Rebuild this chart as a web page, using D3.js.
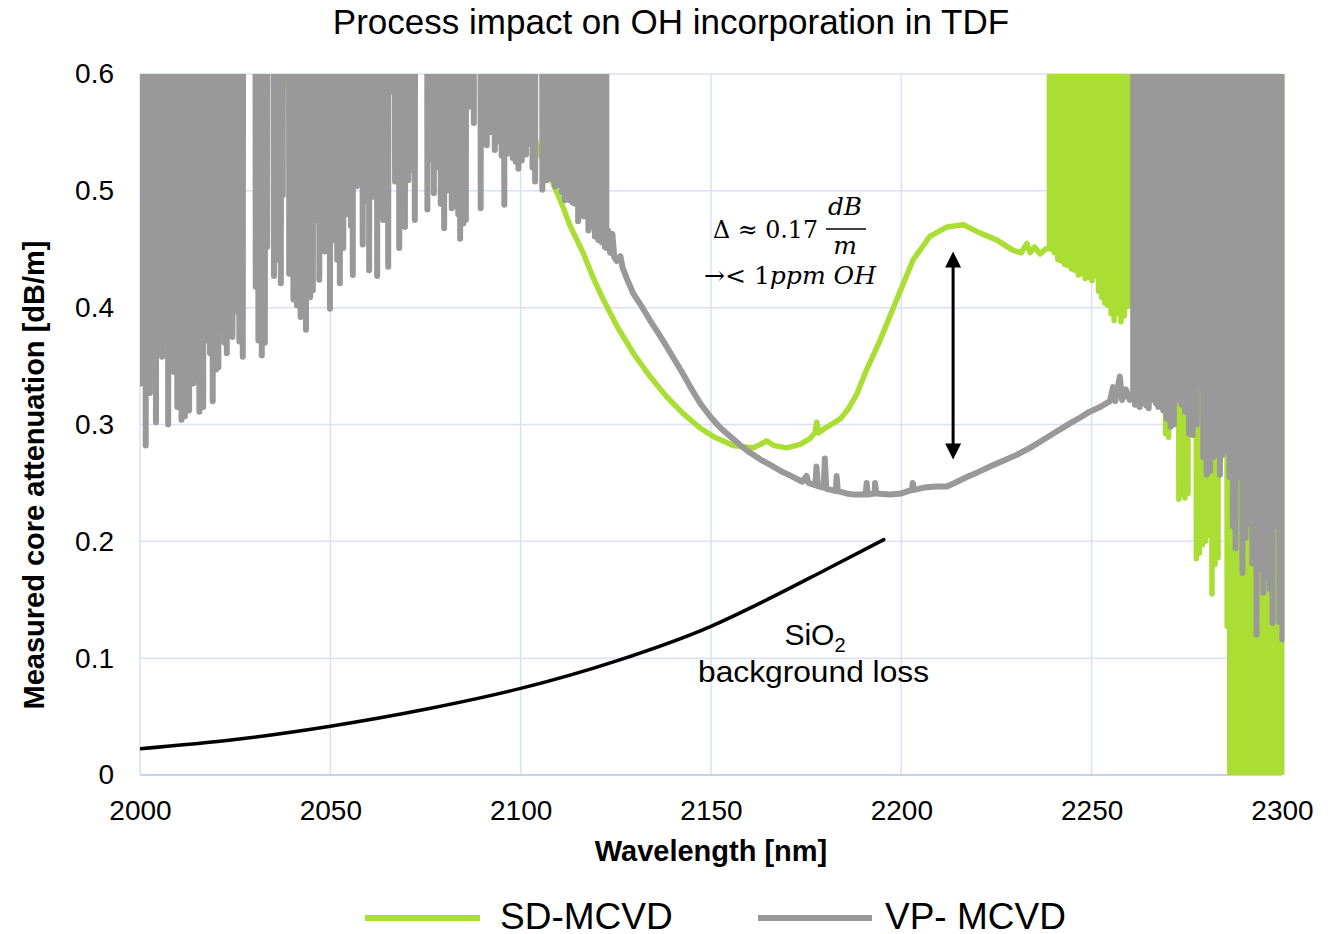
<!DOCTYPE html>
<html>
<head>
<meta charset="utf-8">
<script src="https://cdn.jsdelivr.net/npm/d3@7"></script>
<style>
  body { margin: 0; background: #fff; }
  svg { display: block; font-family: "Liberation Sans", Arial, sans-serif; }
  .math { font-family: "DejaVu Serif", "Liberation Serif", serif; }
</style>
</head>
<body>
<svg id="chart" width="1337" height="934"></svg>
<script>
// ---------- axis ticks ----------
const xTicks = [2000, 2050, 2100, 2150, 2200, 2250, 2300];
const yTicks = [0, 0.1, 0.2, 0.3, 0.4, 0.5, 0.6];
const yTickLabels = ["0", "0.1", "0.2", "0.3", "0.4", "0.5", "0.6"];
const seriesNames = ["SD-MCVD", "VP- MCVD"];

// Readings above the axis range (detector saturated) are stored as this value
const OFF_SCALE = 1.5;

// ---------- VP-MCVD ----------
// short-wavelength saturated region: [wavelength nm, floor of each noise spike dB/m]
const vpShortBand = [
  [2000.3,0.335],[2001.5,0.282],[2002.6,0.327],[2003.5,0.389],[2004.2,0.302],[2005.1,0.375],[2005.8,0.358],[2006.6,0.383],
  [2007.4,0.300],[2008.3,0.355],[2008.9,0.345],[2009.8,0.315],[2010.9,0.304],[2011.8,0.307],[2012.9,0.312],[2014.0,0.335],
  [2014.9,0.340],[2015.6,0.311],[2016.6,0.315],[2017.7,0.372],[2018.4,0.361],[2019.1,0.320],[2020.0,0.347],[2020.6,0.349],
  [2021.5,0.381],[2022.2,0.370],[2022.8,0.361],[2023.6,0.398],[2024.3,0.375],[2025.2,0.397],[2026.1,0.371],[2027.0,0.358],
  [2030.4,0.418],[2031.1,0.372],[2032.0,0.359],[2032.8,0.370],[2033.4,0.452],
  [2035.2,0.427],[2035.9,0.441],[2036.5,0.470],[2037.0,0.421],[2037.5,0.496],
  [2039.2,0.429],[2040.3,0.407],[2041.2,0.402],[2042.2,0.392],[2042.9,0.402],[2043.6,0.381],[2044.7,0.409],[2045.4,0.415],
  [2046.2,0.475],[2047.1,0.424],[2047.9,0.470],[2048.6,0.448],[2049.2,0.458],[2049.9,0.399],[2050.5,0.470],[2051.0,0.458],
  [2051.8,0.441],[2052.5,0.421],[2053.4,0.451],[2054.1,0.480],[2054.7,0.502],[2055.4,0.470],[2055.9,0.428],[2056.9,0.504],
  [2057.8,0.527],[2058.5,0.454],[2059.5,0.491],[2060.2,0.432],[2061.3,0.495],[2062.3,0.427],[2063.0,0.555],[2063.9,0.475],
  [2064.6,0.500],[2065.2,0.435],[2066.1,0.585],[2067.0,0.508],[2068.1,0.451],[2069.0,0.491],[2069.6,0.469],[2070.5,0.509],
  [2071.6,0.518],[2072.2,0.475],
  [2075.5,0.484],[2076.6,0.527],[2077.2,0.498],[2077.8,0.520],[2078.4,0.575],[2079.0,0.489],[2079.9,0.468],[2080.5,0.500],
  [2081.0,0.547],[2081.9,0.485],[2082.5,0.500],[2083.0,0.487],[2083.6,0.480],[2084.1,0.459],[2084.9,0.472],[2085.6,0.475],
  [2086.9,0.572],[2087.7,0.558],
  [2089.5,0.485],
  [2091.1,0.539],[2091.6,0.550],[2092.1,0.553],[2092.7,0.550],[2093.2,0.535],[2093.8,0.550],[2094.4,0.542],[2095.0,0.530],
  [2095.7,0.488],[2096.5,0.532],[2097.9,0.528],[2098.7,0.525],[2099.4,0.519],[2100.3,0.526],[2101.4,0.531],[2102.0,0.540],
  [2102.4,0.547],[2103.1,0.520],[2103.8,0.508],
  [2105.7,0.501],[2106.8,0.509],[2107.7,0.515],[2108.3,0.510],[2109.0,0.504],[2109.9,0.505],[2110.8,0.499],[2111.6,0.492],
  [2112.3,0.495],[2112.9,0.492],[2113.6,0.490],[2114.3,0.489],[2115.1,0.474],[2116.0,0.480],[2116.6,0.478],[2117.2,0.481],
  [2117.8,0.466],[2118.7,0.469],[2119.5,0.461],[2120.4,0.458],[2121.3,0.456],[2122.1,0.452]
];
// resolved attenuation trace
const vpTrace = [
  [2122.5,0.451],[2123.0,0.466],[2123.5,0.447],[2124.1,0.463],[2124.6,0.443],[2125.2,0.440],[2126.2,0.444],[2126.8,0.434],
  [2128.0,0.424],[2129.6,0.412],[2132.0,0.400],[2134.0,0.389],[2136.2,0.378],[2138.3,0.367],[2140.5,0.355],[2142.7,0.343],
  [2144.6,0.332],[2147.2,0.318],[2150.0,0.306],[2152.5,0.297],[2155.3,0.289],[2157.8,0.282],[2160.2,0.276],[2163.0,0.270],
  [2165.8,0.265],[2168.4,0.260],[2171.0,0.256],[2174.0,0.251],[2175.1,0.256],[2175.6,0.250],[2177.4,0.248],[2177.7,0.264],
  [2178.1,0.247],[2179.6,0.246],[2179.9,0.271],[2180.3,0.245],[2181.5,0.244],[2182.8,0.243],[2183.0,0.256],[2183.3,0.243],
  [2185.6,0.241],[2187.6,0.240],[2190.6,0.240],[2190.9,0.250],[2191.2,0.240],[2193.0,0.241],[2193.1,0.250],[2193.4,0.241],
  [2197.0,0.240],[2200.0,0.241],[2202.8,0.244],[2203.0,0.250],[2203.3,0.244],[2206.0,0.246],[2209.0,0.247],[2212.0,0.247],
  [2214.0,0.250],[2217.2,0.255],[2220.0,0.259],[2223.3,0.264],[2226.8,0.269],[2230.3,0.274],[2233.8,0.280],[2237.3,0.287],
  [2240.8,0.294],[2244.3,0.301],[2247.0,0.306],[2249.5,0.311],[2252.2,0.315],[2254.8,0.320],[2255.6,0.332],[2256.2,0.320],
  [2257.4,0.341],[2258.0,0.321],[2259.0,0.330],[2260.0,0.321],[2260.9,0.322]
];
// long-wavelength saturated region
const vpLongBand = [
  [2261.4,0.317],[2262.0,0.320],[2262.6,0.315],[2263.2,0.322],[2263.8,0.318],[2264.4,0.316],[2265.0,0.314],[2265.6,0.322],
  [2266.2,0.321],[2266.9,0.318],[2267.5,0.315],[2268.2,0.316],[2268.8,0.312],[2269.7,0.305],[2270.7,0.298],[2271.6,0.300],
  [2272.5,0.321],[2273.6,0.317],[2274.5,0.311],[2275.6,0.292],[2276.5,0.291],[2277.6,0.300],[2278.4,0.332],[2279.3,0.272],
  [2280.2,0.257],[2281.1,0.260],[2281.9,0.272],[2282.8,0.274],[2283.7,0.257],[2284.4,0.274],[2285.7,0.277],[2286.2,0.255],
  [2287.1,0.213],[2287.8,0.194],[2288.6,0.255],[2289.6,0.173],[2290.4,0.203],[2291.3,0.215],[2292.2,0.181],[2293.3,0.120],
  [2294.2,0.176],[2295.1,0.156],[2296.0,0.170],[2296.8,0.159],[2297.5,0.130],[2298.4,0.213],[2299.3,0.131],[2300.1,0.116]
];

// ---------- SD-MCVD ----------
const sdShortSpikes = [[2038.0,0.590]];
const sdTrace = [
  [2104.2,0.540],[2105.5,0.528],[2107.7,0.512],[2110.3,0.493],[2113.0,0.470],[2116.4,0.447],[2119.0,0.426],[2121.7,0.407],
  [2125.5,0.383],[2129.6,0.361],[2134.0,0.341],[2138.3,0.324],[2142.5,0.310],[2147.1,0.297],[2151.0,0.289],[2155.8,0.282],
  [2161.1,0.280],[2163.0,0.283],[2164.6,0.286],[2166.5,0.282],[2169.9,0.280],[2173.4,0.283],[2176.0,0.288],[2177.3,0.293],
  [2177.8,0.302],[2178.3,0.293],[2180.0,0.297],[2182.1,0.301],[2184.0,0.305],[2186.0,0.313],[2188.3,0.326],[2190.9,0.347],
  [2194.4,0.372],[2198.8,0.407],[2203.1,0.441],[2207.5,0.461],[2211.9,0.469],[2216.3,0.471],[2220.6,0.464],[2225.0,0.458],
  [2229.4,0.449],[2231.5,0.447],[2233.0,0.455],[2233.8,0.447],[2235.0,0.452],[2236.5,0.446],[2237.8,0.450],[2238.9,0.451]
];
const sdMidBand = [
  [2239.4,0.450],[2240.2,0.447],[2241.1,0.441],[2242.0,0.440],[2242.9,0.437],[2243.8,0.436],[2244.7,0.433],
  [2245.6,0.432],[2246.5,0.428],[2247.4,0.429],[2248.3,0.425],[2249.2,0.426],[2250.1,0.423],[2251.0,0.427],[2251.8,0.414],
  [2252.6,0.409],[2253.4,0.404],[2254.2,0.402],[2255.1,0.395],[2255.9,0.389],[2256.8,0.395],[2257.7,0.388],[2258.6,0.393],
  [2259.5,0.401],[2260.3,0.407],[2261.0,0.410]
];
const sdLongSpikes = [
  [2269.4,0.292],[2270.2,0.289],[2272.9,0.236],[2273.7,0.240],[2274.5,0.237],[2275.3,0.241],[2277.5,0.185],[2278.3,0.190],
  [2279.1,0.197],[2279.9,0.200],[2280.7,0.205],[2281.6,0.155],[2282.4,0.180],[2283.2,0.186],[2285.6,0.127]
];
// beyond 2286 nm the signal swings through the whole range (floor below 0)
const sdTailBand = [
  [2286.3,-0.03],[2287.2,-0.03],[2288.1,-0.03],[2289.0,-0.03],[2289.9,-0.03],[2290.8,-0.03],[2291.7,-0.03],[2292.6,-0.03],
  [2293.5,-0.03],[2294.4,-0.03],[2295.3,-0.03],[2296.2,-0.03],[2297.1,-0.03],[2298.0,-0.03],[2298.9,-0.03],[2299.8,-0.03],
  [2300.6,-0.03]
];

// ---------- SiO2 background loss ----------
const sio2Loss = [
  [2000,0.0224],[2025,0.0303],[2050,0.0417],[2075,0.0562],[2100,0.0741],[2125,0.0975],
  [2150,0.1273],[2165,0.1505],[2180,0.1755],[2195.4,0.2015]
];

// ---------- annotation ----------
const deltaLabel = "0.17";
const deltaArrow = { wl: 2213.6, low: 0.270, high: 0.448 };

// ---------- layout ----------
const plot = { left: 140, right: 1282, top: 74, bottom: 775 };
const COLORS = { sd: "#AADE34", vp: "#999999", grid: "#D9E0F7", axis: "#C8D2F0" };

const svg = d3.select("#chart");
const x = d3.scaleLinear().domain([2000, 2300]).range([plot.left, plot.right]);
const y = d3.scaleLinear().domain([0, 0.6]).range([plot.bottom, plot.top]);

// gridlines
const grid = svg.append("g");
grid.selectAll("line.v").data(xTicks).join("line")
  .attr("x1", d => x(d)).attr("x2", d => x(d))
  .attr("y1", plot.top).attr("y2", plot.bottom)
  .attr("stroke", COLORS.grid).attr("stroke-width", 1.5);
grid.selectAll("line.h").data(yTicks.filter(d => d > 0)).join("line")
  .attr("x1", plot.left).attr("x2", x(2300))
  .attr("y1", d => y(d)).attr("y2", d => y(d))
  .attr("stroke", COLORS.grid).attr("stroke-width", 1.5);
grid.append("line")
  .attr("x1", plot.left).attr("x2", x(2300)).attr("y1", y(0)).attr("y2", y(0))
  .attr("stroke", COLORS.axis).attr("stroke-width", 2);

// clip region for the data
svg.append("clipPath").attr("id", "plotClip").append("rect")
  .attr("x", plot.left).attr("y", plot.top)
  .attr("width", x(2300) - plot.left + 2.5).attr("height", plot.bottom - plot.top);

const SPIKE_HALF = 0.3; // nm
const spikeRun = pairs => pairs.flatMap(([w, v]) => [[w - SPIKE_HALF, OFF_SCALE], [w, v], [w + SPIKE_HALF, OFF_SCALE]]);
const traceRun = (pairs, openStart) => openStart
  ? [...pairs, [pairs[pairs.length - 1][0], OFF_SCALE]]
  : [[pairs[0][0], OFF_SCALE], ...pairs, [pairs[pairs.length - 1][0], OFF_SCALE]];

const sdPoints = [...spikeRun(sdShortSpikes), ...traceRun(sdTrace, true), ...spikeRun(sdMidBand),
                  ...spikeRun(sdLongSpikes), ...spikeRun(sdTailBand)];
const vpPoints = [...spikeRun(vpShortBand), ...traceRun(vpTrace, false), ...spikeRun(vpLongBand)];

const line = d3.line().x(d => x(d[0])).y(d => y(d[1]));
const data = svg.append("g").attr("clip-path", "url(#plotClip)");

data.append("path").attr("d", line(sdPoints))
  .attr("fill", "none").attr("stroke", COLORS.sd).attr("stroke-width", 5.5)
  .attr("stroke-linejoin", "round").attr("stroke-linecap", "round");
data.append("path").attr("d", line(vpPoints))
  .attr("fill", "none").attr("stroke", COLORS.vp).attr("stroke-width", 6)
  .attr("stroke-linejoin", "round").attr("stroke-linecap", "round");

const smooth = d3.line().x(d => x(d[0])).y(d => y(d[1])).curve(d3.curveMonotoneX);
data.append("path").attr("d", smooth(sio2Loss))
  .attr("fill", "none").attr("stroke", "#000").attr("stroke-width", 3.5)
  .attr("stroke-linecap", "round");

// axes
const xAxis = svg.append("g").attr("transform", `translate(0,${plot.bottom})`)
  .call(d3.axisBottom(x).tickValues(xTicks).tickSize(0).tickPadding(25).tickFormat(d3.format("d")));
xAxis.select(".domain").remove();
xAxis.selectAll("text").attr("font-size", 28).attr("fill", "#000")
  .attr("font-family", '"Liberation Sans", Arial, sans-serif');

const yAxis = svg.append("g").attr("transform", `translate(${plot.left},0)`)
  .call(d3.axisLeft(y).tickValues(yTicks).tickSize(0).tickPadding(26).tickFormat((d, i) => yTickLabels[i]));
yAxis.select(".domain").remove();
yAxis.selectAll("text").attr("font-size", 28).attr("fill", "#000")
  .attr("font-family", '"Liberation Sans", Arial, sans-serif');

// title and axis titles
svg.append("text").attr("x", 671).attr("y", 34).attr("text-anchor", "middle")
  .attr("font-size", 35).text("Process impact on OH incorporation in TDF");
svg.append("text").attr("x", 711).attr("y", 861).attr("text-anchor", "middle")
  .attr("font-size", 29).attr("font-weight", "bold").text("Wavelength [nm]");
svg.append("text").attr("transform", "translate(44,475) rotate(-90)").attr("text-anchor", "middle")
  .attr("font-size", 29).attr("font-weight", "bold").text("Measured core attenuation [dB/m]");

// difference arrow
const ax = x(deltaArrow.wl), aTop = y(deltaArrow.high), aBot = y(deltaArrow.low);
const head = 16, halfW = 8;
svg.append("line").attr("x1", ax).attr("x2", ax).attr("y1", aTop + head - 2).attr("y2", aBot - head + 2)
  .attr("stroke", "#000").attr("stroke-width", 3);
svg.append("path").attr("d", `M${ax},${aTop} L${ax - halfW},${aTop + head} L${ax + halfW},${aTop + head} Z`).attr("fill", "#000");
svg.append("path").attr("d", `M${ax},${aBot} L${ax - halfW},${aBot - head} L${ax + halfW},${aBot - head} Z`).attr("fill", "#000");

// delta annotation (math)
const m = svg.append("g").attr("class", "math").attr("font-size", 25).attr("fill", "#000");
m.append("text").attr("x", 713).attr("y", 238).attr("textLength", 105).attr("lengthAdjust", "spacingAndGlyphs")
  .text("Δ ≈ " + deltaLabel);
m.append("text").attr("x", 845).attr("y", 215).attr("text-anchor", "middle").attr("font-style", "italic")
  .attr("textLength", 34).attr("lengthAdjust", "spacingAndGlyphs").text("dB");
m.append("line").attr("x1", 826).attr("x2", 866).attr("y1", 229).attr("y2", 229).attr("stroke", "#000").attr("stroke-width", 1.6);
m.append("text").attr("x", 845).attr("y", 254).attr("text-anchor", "middle").attr("font-style", "italic").text("m");
const l2 = m.append("text").attr("x", 704).attr("y", 284).attr("textLength", 172).attr("lengthAdjust", "spacingAndGlyphs");
l2.append("tspan").text("→< 1");
l2.append("tspan").attr("font-style", "italic").text("ppm OH");

// SiO2 label
const sio = svg.append("text").attr("x", 815).attr("y", 645).attr("text-anchor", "middle").attr("font-size", 30);
sio.append("tspan").text("SiO");
sio.append("tspan").attr("dy", 7).attr("font-size", 20).text("2");
svg.append("text").attr("x", 698).attr("y", 682).attr("font-size", 30)
  .attr("textLength", 231).attr("lengthAdjust", "spacingAndGlyphs").text("background loss");

// legend
const legend = [
  { name: seriesNames[0], color: COLORS.sd, x1: 365, x2: 480, tx: 500 },
  { name: seriesNames[1], color: COLORS.vp, x1: 758, x2: 872, tx: 885 }
];
const lg = svg.append("g");
lg.selectAll("line").data(legend).join("line")
  .attr("x1", d => d.x1).attr("x2", d => d.x2).attr("y1", 918).attr("y2", 918)
  .attr("stroke", d => d.color).attr("stroke-width", 6);
lg.selectAll("text").data(legend).join("text")
  .attr("x", d => d.tx).attr("y", 929).attr("font-size", 37).text(d => d.name);
</script>
</body>
</html>
